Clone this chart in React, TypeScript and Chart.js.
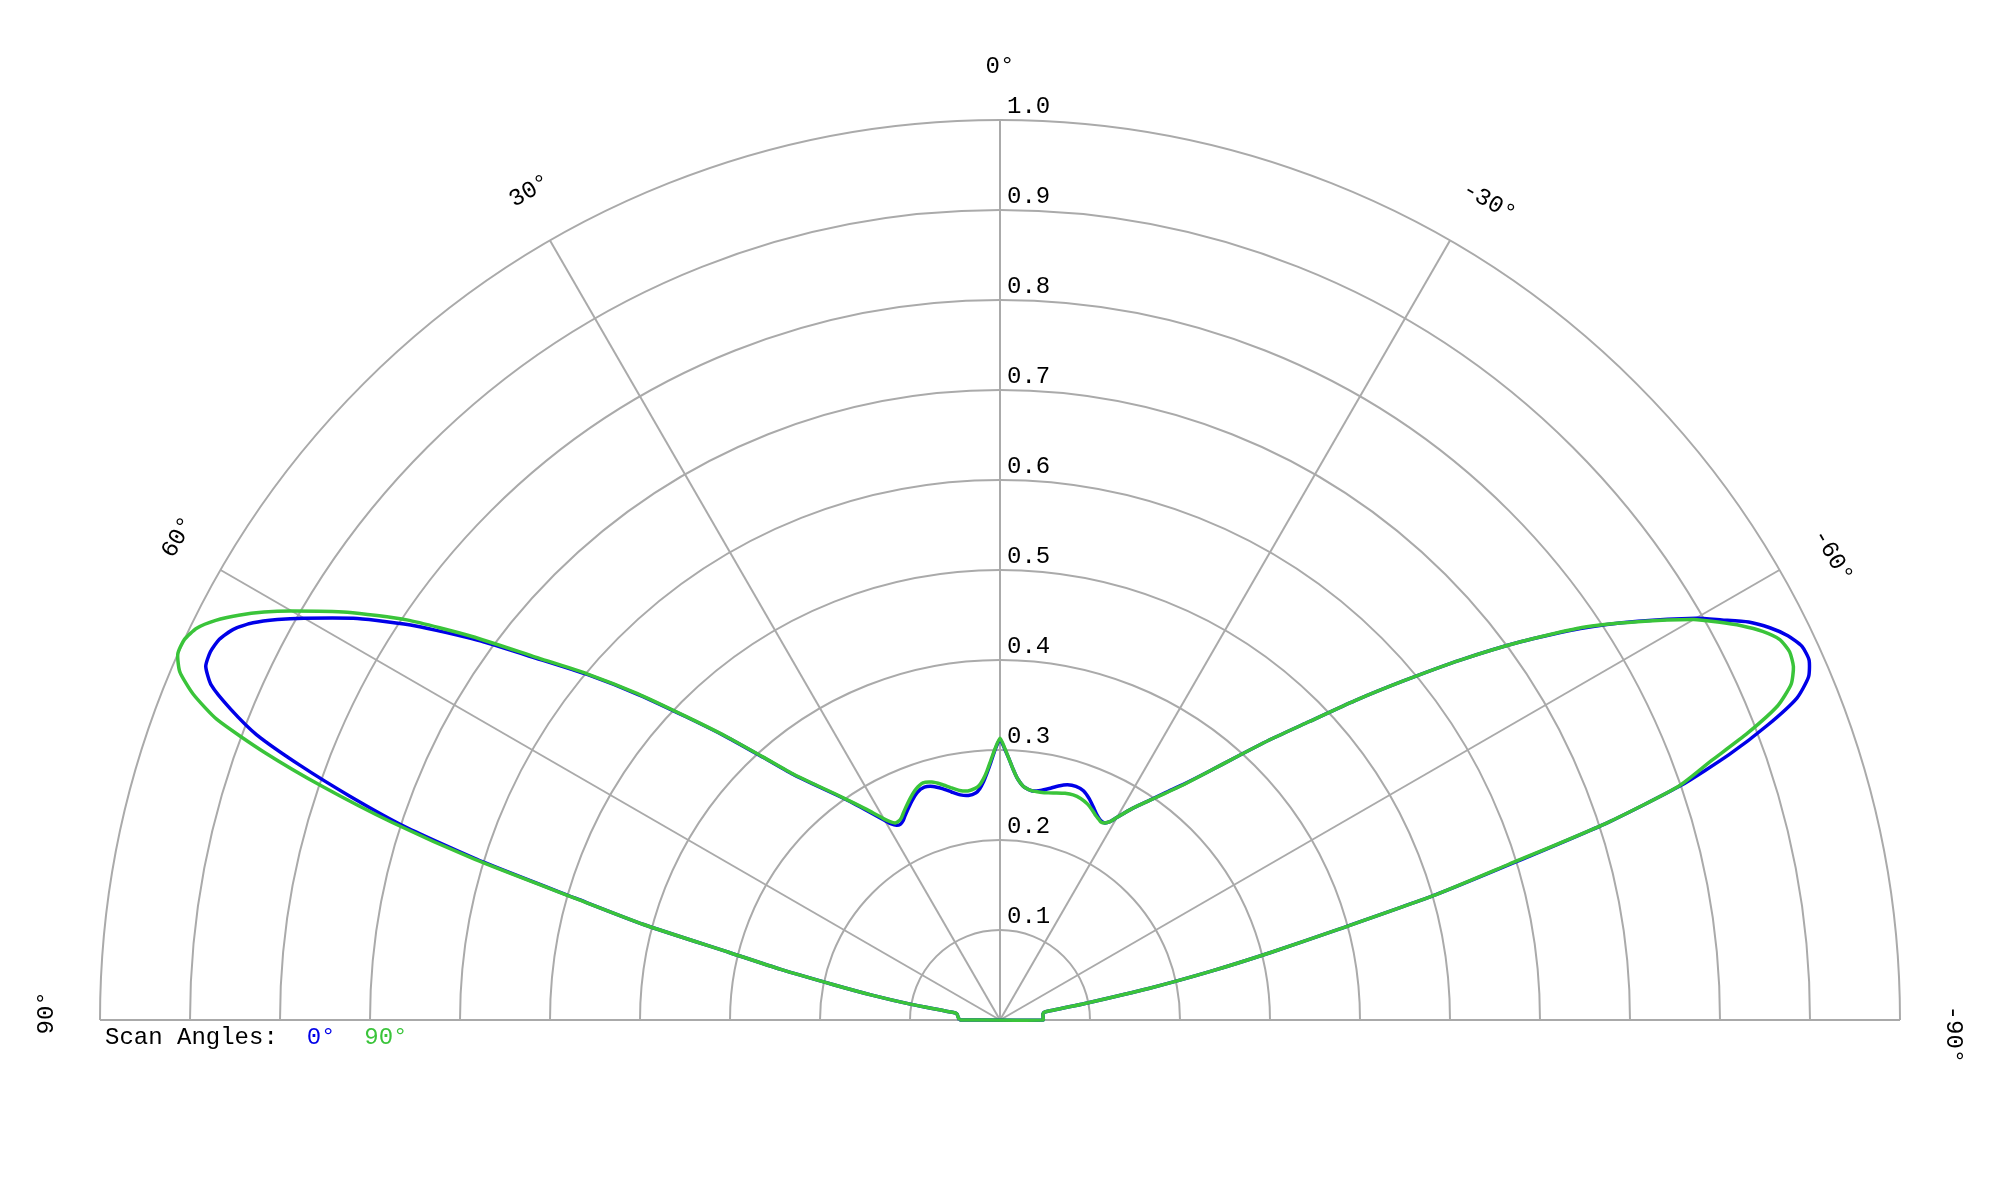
import React, { useEffect, useRef } from "react";
import { Chart, registerables } from "chart.js";

Chart.register(...registerables);

// Polar angles in degrees (positive = left of 0°, negative = right)
const ANGLES = [
  90, 87.5, 85, 82.5, 81, 80, 79, 78, 77, 76,
  75, 74, 73, 72, 71, 70, 69, 68, 67, 66,
  65, 64, 63, 62, 61, 60, 58, 56, 54, 52,
  50, 48, 46, 44, 42, 40, 38, 36, 34, 32,
  30, 29, 28, 27, 26, 25, 24, 22, 20, 18,
  16, 14, 12, 10, 8, 6, 5, 4, 3, 2,
  1, 0, -1, -2, -3, -4, -5, -6, -8, -10,
  -12, -14, -16, -18, -20, -22, -24, -25, -26, -27,
  -28, -29, -30, -32, -34, -36, -38, -40, -42, -44,
  -46, -48, -50, -52, -54, -56, -58, -60, -61, -62,
  -63, -64, -65, -66, -67, -68, -69, -70, -71, -72,
  -73, -74, -75, -76, -77, -78, -79, -80, -82.5, -85,
  -87.5, -90,
];

// Relative intensity, scan angle 0° (blue)
const SCAN_0 = [
  0.045, 0.046, 0.047, 0.048, 0.05, 0.10, 0.145, 0.19, 0.25, 0.31,
  0.41, 0.49, 0.60, 0.695, 0.764, 0.828, 0.885, 0.922, 0.952, 0.966,
  0.968, 0.965, 0.956, 0.94, 0.918, 0.893, 0.842, 0.783, 0.718, 0.652,
  0.596, 0.54, 0.485, 0.437, 0.392, 0.355, 0.33, 0.309, 0.29, 0.272,
  0.256, 0.249, 0.245, 0.244, 0.246, 0.25, 0.254, 0.262, 0.269, 0.272,
  0.27, 0.265, 0.259, 0.254, 0.252, 0.254, 0.258, 0.265, 0.275, 0.287,
  0.301, 0.312, 0.301, 0.29, 0.279, 0.27, 0.264, 0.26, 0.257, 0.259,
  0.263, 0.268, 0.272, 0.273, 0.271, 0.265, 0.257, 0.253, 0.25, 0.248,
  0.248, 0.252, 0.26, 0.277, 0.293, 0.312, 0.333, 0.36, 0.394, 0.434,
  0.477, 0.53, 0.587, 0.65, 0.715, 0.778, 0.836, 0.893, 0.917, 0.942,
  0.96, 0.974, 0.983, 0.984, 0.976, 0.955, 0.913, 0.862, 0.80, 0.71,
  0.595, 0.50, 0.39, 0.31, 0.24, 0.17, 0.095, 0.05, 0.048, 0.048,
  0.048, 0.048,
];

// Relative intensity, scan angle 90° (green)
const SCAN_90 = [
  0.045, 0.046, 0.047, 0.048, 0.05, 0.10, 0.145, 0.19, 0.25, 0.31,
  0.41, 0.493, 0.61, 0.71, 0.795, 0.87, 0.932, 0.967, 0.99, 1.0,
  1.0, 0.993, 0.978, 0.958, 0.935, 0.909, 0.855, 0.795, 0.725, 0.655,
  0.598, 0.542, 0.486, 0.438, 0.393, 0.356, 0.331, 0.31, 0.291, 0.274,
  0.258, 0.252, 0.248, 0.248, 0.25, 0.254, 0.258, 0.266, 0.273, 0.277,
  0.275, 0.27, 0.264, 0.259, 0.257, 0.259, 0.262, 0.268, 0.277, 0.289,
  0.302, 0.313, 0.302, 0.29, 0.279, 0.27, 0.264, 0.26, 0.257, 0.257,
  0.258, 0.26, 0.262, 0.263, 0.262, 0.259, 0.254, 0.251, 0.249, 0.247,
  0.248, 0.252, 0.26, 0.277, 0.293, 0.311, 0.332, 0.36, 0.394, 0.434,
  0.477, 0.53, 0.587, 0.65, 0.715, 0.78, 0.835, 0.89, 0.912, 0.933,
  0.951, 0.964, 0.968, 0.965, 0.955, 0.932, 0.89, 0.84, 0.797, 0.71,
  0.59, 0.50, 0.39, 0.31, 0.24, 0.17, 0.095, 0.05, 0.048, 0.048,
  0.048, 0.048,
];

const RING_VALUES = [0.1, 0.2, 0.3, 0.4, 0.5, 0.6, 0.7, 0.8, 0.9, 1.0];
const RING_LABELS = ["0.1", "0.2", "0.3", "0.4", "0.5", "0.6", "0.7", "0.8", "0.9", "1.0"];
const SPOKE_ANGLES = [60, 30, 0, -30, -60];
const ANGLE_LABEL_VALUES = [90, 60, 30, 0, -30, -60, -90];
const ANGLE_LABELS = ["90°", "60°", "30°", "0°", "-30°", "-60°", "-90°"];
const LEGEND_TITLE = "Scan Angles:";
const SERIES_NAMES = ["0°", "90°"];

const BLUE = "rgb(0,0,232)";
const GREEN = "rgb(58,196,58)";
const GRID = "#aaaaaa";
const FONT = '24px "Liberation Mono", "Courier New", monospace';

function toXY(angles: number[], rs: number[]) {
  const pts = angles.map((a, i) => {
    const rad = (a * Math.PI) / 180;
    return { x: -rs[i] * Math.sin(rad), y: rs[i] * Math.cos(rad) };
  });
  pts.push({ ...pts[0] }); // close along the baseline
  return pts;
}

const polarGrid = {
  id: "polarGrid",
  beforeDatasetsDraw(chart: any) {
    const { ctx, scales } = chart;
    const cx = scales.x.getPixelForValue(0);
    const cy = scales.y.getPixelForValue(0);
    const R = scales.x.getPixelForValue(1) - cx;
    ctx.save();
    ctx.strokeStyle = GRID;
    ctx.lineWidth = 2;
    RING_VALUES.forEach((v) => {
      ctx.beginPath();
      ctx.arc(cx, cy, v * R, Math.PI, 2 * Math.PI);
      ctx.stroke();
    });
    ctx.beginPath();
    ctx.moveTo(cx - R, cy);
    ctx.lineTo(cx + R, cy);
    ctx.stroke();
    SPOKE_ANGLES.forEach((a) => {
      const rad = (a * Math.PI) / 180;
      ctx.beginPath();
      ctx.moveTo(cx, cy);
      ctx.lineTo(cx - R * Math.sin(rad), cy - R * Math.cos(rad));
      ctx.stroke();
    });
    ctx.restore();
  },
  afterDatasetsDraw(chart: any) {
    const { ctx, scales } = chart;
    const cx = scales.x.getPixelForValue(0);
    const cy = scales.y.getPixelForValue(0);
    const R = scales.x.getPixelForValue(1) - cx;
    ctx.save();
    ctx.font = FONT;
    ctx.fillStyle = "#000";
    ctx.textAlign = "left";
    ctx.textBaseline = "alphabetic";
    const w = ctx.measureText("M").width;
    RING_VALUES.forEach((v, i) => {
      ctx.fillText(RING_LABELS[i], cx + 7, cy - v * R - 7);
    });
    // angle labels, tangent to the outer ring
    const rl = R * 1.059;
    ANGLE_LABEL_VALUES.forEach((a, i) => {
      const rad = (a * Math.PI) / 180;
      const px = cx - rl * Math.sin(rad);
      const py = cy - rl * Math.cos(rad);
      ctx.save();
      ctx.translate(px, py);
      ctx.rotate(-rad);
      ctx.textAlign = "left";
      ctx.textBaseline = "middle";
      ctx.fillStyle = "#000";
      ctx.fillText(ANGLE_LABELS[i], -w, 0);
      ctx.restore();
    });
    // legend line
    const x0 = cx - R + 5;
    const yb = cy + 24;
    ctx.textAlign = "left";
    ctx.textBaseline = "alphabetic";
    ctx.fillStyle = "#000";
    ctx.fillText(LEGEND_TITLE, x0, yb);
    ctx.fillStyle = BLUE;
    ctx.fillText(SERIES_NAMES[0], x0 + 14 * w, yb);
    ctx.fillStyle = GREEN;
    ctx.fillText(SERIES_NAMES[1], x0 + 18 * w, yb);
    ctx.restore();
  },
};

export default function App() {
  const ref = useRef<HTMLCanvasElement | null>(null);
  useEffect(() => {
    if (!ref.current) return;
    const chart = new Chart(ref.current, {
      type: "scatter",
      data: {
        datasets: [
          {
            label: SERIES_NAMES[1],
            data: toXY(ANGLES, SCAN_90),
            showLine: true,
            borderColor: GREEN,
            backgroundColor: GREEN,
            borderWidth: 3.5,
            pointRadius: 0,
            tension: 0.2,
            order: 0,
          },
          {
            label: SERIES_NAMES[0],
            data: toXY(ANGLES, SCAN_0),
            showLine: true,
            borderColor: BLUE,
            backgroundColor: BLUE,
            borderWidth: 3.5,
            pointRadius: 0,
            tension: 0.2,
            order: 1,
          },
        ],
      },
      options: {
        animation: false,
        responsive: false,
        devicePixelRatio: 1,
        layout: { padding: 0 },
        plugins: { legend: { display: false }, tooltip: { enabled: false }, title: { display: false } },
        scales: {
          x: { type: "linear", display: false, min: -1000 / 900, max: 1000 / 900 },
          y: { type: "linear", display: false, min: -180 / 900, max: 1020 / 900 },
        },
      },
      plugins: [polarGrid],
    });
    return () => chart.destroy();
  }, []);
  return (
    <div style={{ position: "fixed", left: 0, top: 0, width: 2000, height: 1200, background: "#fff" }}>
      <canvas ref={ref} width={2000} height={1200} style={{ width: 2000, height: 1200, display: "block" }} />
    </div>
  );
}
